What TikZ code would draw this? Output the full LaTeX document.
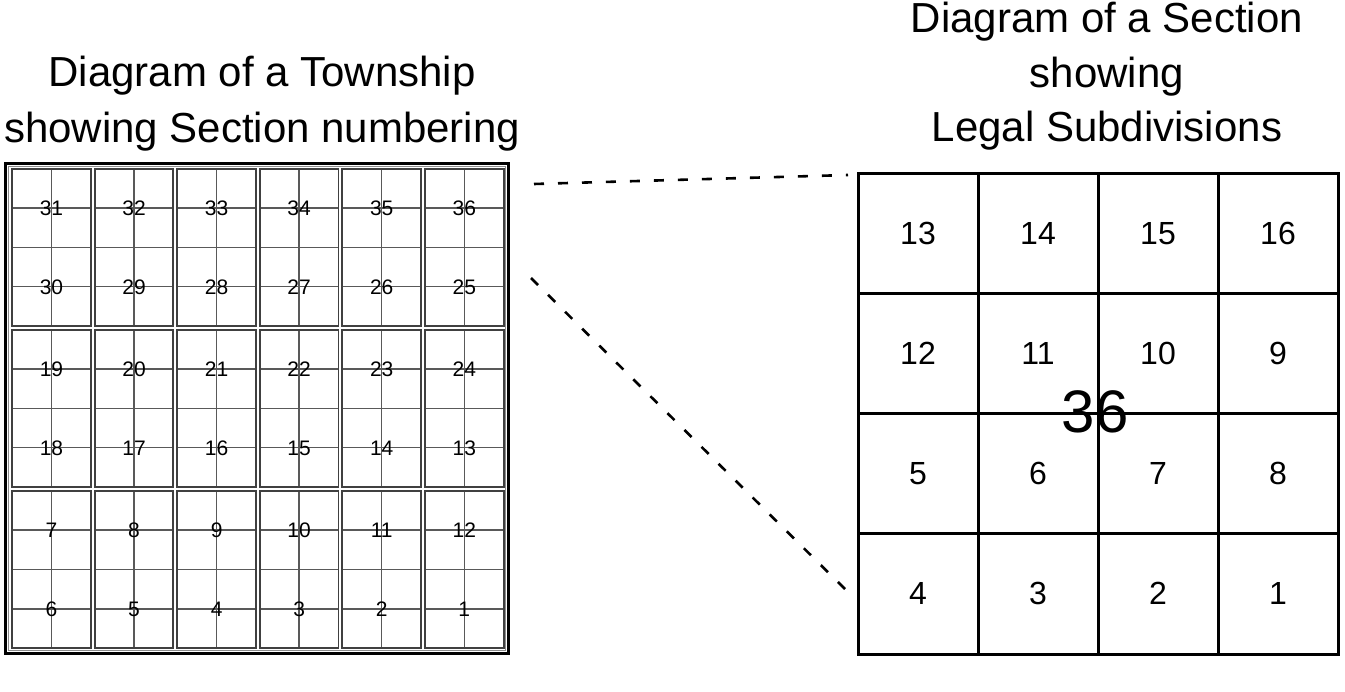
\documentclass[tikz,border=0pt]{standalone}
\usepackage{fontspec}
\setmainfont{Liberation Sans}
\begin{document}
\begin{tikzpicture}[x=1pt,y=-1pt,
  secbox/.style={draw=black!75,line width=1.9pt},
  qline/.style={draw=black!65,line width=1.5pt},
  secnum/.style={inner sep=0pt,text depth=0pt,text height=15pt,font=\fontsize{21}{21}\selectfont},
  lsnum/.style={inner sep=0pt,text depth=0pt,text height=22.9pt,font=\fontsize{32}{32}\selectfont},
  bignum/.style={inner sep=0pt,text depth=0pt,text height=43pt,font=\fontsize{60}{60}\selectfont},
  titleline/.style={font=\fontsize{42}{42}\selectfont,anchor=base,inner sep=0pt},
  sqline/.style={draw=black,line width=3pt},
  conn/.style={draw=black,line width=2.6pt,dash pattern=on 10pt off 14pt}]
\useasboundingbox (0,0) rectangle (1345,692);

% titles
\node[titleline] (t1a) at (262,87) {Diagram of a Township};
\node[titleline] (t1b) at (262,143) {showing Section numbering};
\node[titleline] (t2a) at (1107,33) {Diagram of a Section};
\node[titleline] (t2b) at (1107,88) {showing};
\node[titleline] (t2c) at (1107,142) {Legal Subdivisions};

% township frame
\draw[black,line width=2.2pt] (5.5,163.5) rectangle (508.5,653.5);
\draw[black!45,line width=1pt] (8.5,166.5) rectangle (505.5,650.5);

% section blocks
\foreach \c in {0,...,5} {
  \foreach \b in {0,1,2} {
    \pgfmathsetmacro\cx{51.5+82.55*\c}
    \pgfmathsetmacro\ty{169+161*\b}
    \draw[qline] (\cx,\ty) -- (\cx,\ty+157);
    \draw[qline] (\cx-39.3,\ty+39.25) -- (\cx+39.3,\ty+39.25);
    \draw[qline] (\cx-39.3,\ty+78.5) -- (\cx+39.3,\ty+78.5);
    \draw[qline] (\cx-39.3,\ty+117.75) -- (\cx+39.3,\ty+117.75);
    \draw[secbox] (\cx-39.3,\ty) rectangle (\cx+39.3,\ty+157);
  }
}
% section numbers
\foreach \r in {0,...,5} {
  \foreach \c in {0,...,5} {
    \pgfmathtruncatemacro\k{5-\r}
    \pgfmathtruncatemacro\n{mod(\k,2)==0 ? 6*\k+6-\c : 6*\k+\c+1}
    \pgfmathsetmacro\cx{51.5+82.55*\c}
    \pgfmathsetmacro\cy{169+161*floor(\r/2)+39.25+78.5*mod(\r,2)}
    \node[secnum] (s\n) at (\cx,\cy) {\n};
  }
}

% section diagram
\draw[sqline] (858,174) rectangle (1338,654);
\foreach \i in {1,2,3} {
  \draw[sqline] (858+120*\i,174) -- (858+120*\i,654);
  \draw[sqline] (858,174+120*\i) -- (1338,174+120*\i);
}
\foreach \r/\row in {0/{13,14,15,16},1/{12,11,10,9},2/{5,6,7,8},3/{4,3,2,1}} {
  \foreach \n [count=\c from 0] in \row {
    \node[lsnum] (l\n) at (918+120*\c,233.5+120*\r) {\n};
  }
}
\node[bignum] (big) at (1095,411) {36};

% connectors
\coordinate (d1s) at (534,184);
\coordinate (d1e) at (848,175);
\coordinate (d2s) at (531,278);
\coordinate (d2e) at (846,590);
\draw[conn] (d1s) -- (d1e);
\draw[conn] (d2s) -- (d2e);
\end{tikzpicture}
\end{document}
